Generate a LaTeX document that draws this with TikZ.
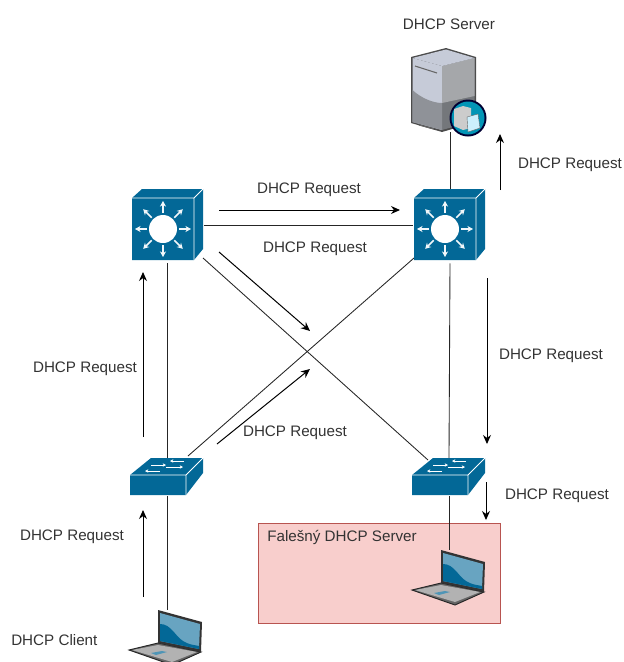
\documentclass[tikz,border=0pt]{standalone}
\usepackage{fontspec}
\setmainfont{Liberation Sans}
\usetikzlibrary{arrows.meta,calc}
\definecolor{cblue}{HTML}{036897}
\definecolor{fakefill}{HTML}{F8CECC}
\definecolor{fakeline}{HTML}{B85450}
\definecolor{srvlight}{HTML}{C6CBD8}
\definecolor{srvlow}{HTML}{8F9298}
\definecolor{srvright}{HTML}{A5A7AA}
\definecolor{srvdark}{HTML}{74777B}
\tikzset{
 x=0.75pt,y=-0.75pt,
 lbl/.style={font=\fontsize{11.4pt}{13pt}\selectfont,text=black!80,inner sep=0pt},
 iconbox/.style 2 args={inner sep=0pt,minimum width=#1*0.75pt,minimum height=#2*0.75pt},
 link/.style={draw=black!85,line width=0.65pt},
 flow/.style={draw=black,line width=0.75pt,-{Stealth[length=6.75pt,width=6pt]}},
 whitear/.style={draw=white!95!cblue,line width=1.3pt,-{Stealth[length=4.2pt,width=4.6pt]}},
 l3switch/.pic={
  \fill[cblue] (0,9)--(10,0)--(71,0)--(71,60)--(62,71)--(0,71)--cycle;
  \draw[white,line width=0.6pt] (62,9)--(71,0) (62,9)--(62,71) (0,9)--(62,9);
  \fill[white] (31,40) circle (14);
  \foreach \a in {0,45,...,315}{
   \draw[whitear] ($(31,40)+(\a:16)$)--($(31,40)+(\a:28)$);
  }
 },
 access/.pic={
  \fill[cblue] (0,17)--(21,0)--(73,0)--(73,15)--(56,37)--(0,37)--cycle;
  \draw[white,line width=0.6pt] (0,17)--(56,17)--(73,0) (56,17)--(56,37);
  \begin{scope}[draw=white,line width=0.6pt]
   \draw[-{Stealth[length=2.5pt,width=2.5pt]}] (21,7)--(36,7);
   \draw[-{Stealth[length=2.5pt,width=2.5pt]}] (54,3)--(40,3);
   \draw[-{Stealth[length=2.5pt,width=2.5pt]}] (36,9)--(53,9);
   \draw[-{Stealth[length=2.5pt,width=2.5pt]}] (30,13)--(15,13);
  \end{scope}
 },
 laptop/.pic={
  \fill[black!60] (0,40)--(29,33)--(72,42)--(43,55)--cycle;
  \fill[black!30] (3,40)--(29,35)--(68,42)--(43,52)--cycle;
  \fill[cblue!70!white] (22,43)--(33,41)--(38,42)--(27,45)--cycle;
  \draw[black!85,line width=0.7pt] (0,40)--(29,33)--(72,42)--(43,55)--cycle;
  \fill[black!80] (29,0)--(73,12)--(72,42)--(29,33)--cycle;
  \fill[cblue!60!white] (31,3)--(71,14)--(70,39)--(31,31)--cycle;
  \fill[cblue] (31,14) .. controls (42,14) and (46,26) .. (54,31) .. controls (60,35) and (66,35) .. (70,36)--(70,39)--(31,31)--cycle;
 },
 serverpic/.pic={
  \fill[black!70] (0,9)--(35,0)--(65,9)--(65,74)--(31,84)--(0,75)--cycle;
  \fill[srvlight] (1.5,10)--(31,18)--(31,82)--(1.5,74)--cycle;
  \fill[srvdark] (31,18)--(63.5,10)--(63.5,73)--(31,82)--cycle;
  \fill[srvright] (31,18)--(63.5,10)--(63.5,48)--(31,55)--cycle;
  \fill[srvlight] (1.5,10)--(35,1.5)--(63.5,10)--(31,18)--cycle;
  \fill[srvlow] (1.5,42) .. controls (10,50) and (22,55) .. (31,55)--(31,82)--(1.5,74)--cycle;
  \draw[black!60,line width=0.8pt] (4,18)--(26,25) (8,77)--(23,81);
  \fill[black!80!blue] (57,70) circle (18.5);
  \fill[cblue!70!cyan] (57,70) circle (16.5);
  \fill[black!20] (43,61)--(52,58)--(60,60)--(60,80)--(52,82)--(43,78)--cycle;
  \draw[black!60,line width=0.3pt,fill=white!80!cyan] (56,69)--(67,66)--(69,80)--(57,84)--cycle;
 },
}
\begin{document}
\begin{tikzpicture}
\useasboundingbox (0,0) rectangle (624,662);
\node[iconbox={73}{70}] (L3a) at (167,228) {};
\node[iconbox={73}{70}] (L3b) at (450,228) {};
\node[iconbox={73}{37}] (SWa) at (167,477) {};
\node[iconbox={73}{37}] (SWb) at (449,477) {};
\node[iconbox={66}{84}] (SRV) at (450,90) {};
\node[iconbox={73}{52}] (PCa) at (167,636) {};
\node[iconbox={73}{55}] (PCb) at (449,578) {};
\node[draw=fakeline,fill=fakefill,line width=0.75pt,iconbox={242}{100}] (FAKE) at (379,573) {};
\draw[link] (SRV.south)--(L3b.north);
\draw[link] ($(L3a.east)+(0,-3)$)--($(L3b.west)+(0,-3)$);
\draw[link] (L3a.south)--(SWa.north);
\draw[link] (L3b.south)--(SWb.north);
\coordinate (Xa) at (203,258);
\coordinate (Xb) at (428,460);
\coordinate (Xc) at (414,258);
\coordinate (Xd) at (188,456);
\draw[link] (Xa)--(Xb);
\draw[link] (Xc)--(Xd);
\draw[link] (SWa.south)--(PCa.north);
\draw[link] (SWb.south)--(PCb.north);
\path (L3a.center)+(-35,-39) pic {l3switch};
\path (L3b.center)+(-36,-39) pic {l3switch};
\path (SWa.center)+(-37,-19) pic {access};
\path (SWb.center)+(-37,-19) pic {access};
\path (SRV.center)+(-39,-42) pic {serverpic};
\path (PCa.center)+(-38,-26) pic {laptop};
\path (PCb.center)+(-37,-28) pic {laptop};
\foreach \n/\xa/\ya/\xb/\yb in {a/219/210/400/210,b/219/252/310/331,c/217/444/310/369,d/143/437/143/272,e/143/597/143/510,f/500/190/500/134,g/487/278/487/444,h/486/482/486/520}{
 \coordinate (s\n) at (\xa,\ya);
 \coordinate (t\n) at (\xb,\yb);
 \draw[flow] (s\n)--(t\n);
}
\node[lbl] (t1) at (449,24) {DHCP Server};
\node[lbl] (t2) at (309,190) {DHCP Request};
\node[lbl] (t3) at (315,249) {DHCP Request};
\node[lbl] (t4) at (85,369) {DHCP Request};
\node[lbl] (t5) at (295,433) {DHCP Request};
\node[lbl] (t6) at (570,165) {DHCP Request};
\node[lbl] (t7) at (551,356) {DHCP Request};
\node[lbl] (t8) at (557,496) {DHCP Request};
\node[lbl] (t9) at (72,537) {DHCP Request};
\node[lbl,anchor=west] (t10) at (11,640) {DHCP Client};
\node[lbl,anchor=west] (t11) at (267,537) {Falešný DHCP Server};
\end{tikzpicture}
\end{document}
